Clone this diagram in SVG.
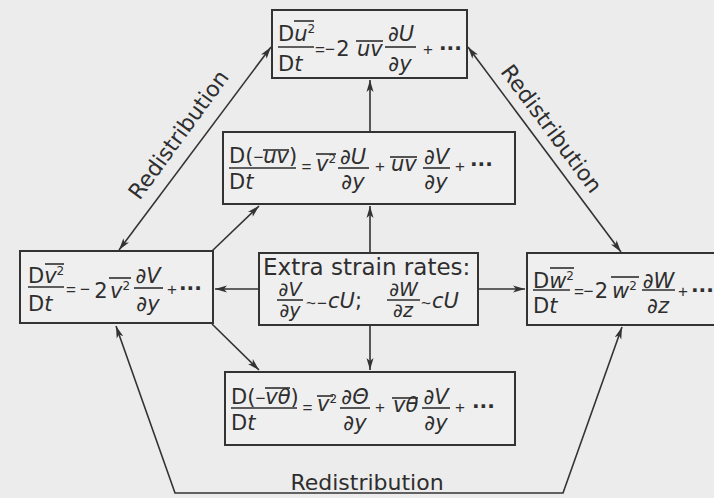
<svg xmlns="http://www.w3.org/2000/svg" width="714" height="498" viewBox="0 0 714 498">
<style>
.bg{fill:#ececec}
.box{fill:#efefef;stroke:#333;stroke-width:2}
.ln{fill:none;stroke:#333;stroke-width:1.6}
.bar{stroke:#2e2e2e;stroke-width:1.6}
.f{font-family:"DejaVu Sans",sans-serif;font-size:21px;fill:#2e2e2e}
.s19{font-size:19px}
.c{text-anchor:middle}
.it{font-style:italic}
.sup{font-size:12px}
.op{font-family:"Liberation Sans",sans-serif;font-size:17px;fill:#2e2e2e;text-anchor:middle}
.mn{font-family:"Liberation Sans",sans-serif;font-size:17px}
.dots{font-weight:bold;font-size:20px}
.lbl{font-family:"DejaVu Sans",sans-serif;font-size:22px;fill:#2e2e2e;text-anchor:middle}
.big{font-family:"DejaVu Sans",sans-serif;font-size:23px;fill:#2e2e2e}
</style>
<defs>
<marker id="ah" viewBox="0 0 12 8" refX="12" refY="4" markerWidth="12" markerHeight="8" markerUnits="userSpaceOnUse" orient="auto-start-reverse">
<path d="M0,0.5 L12,4 L0,7.5 L3,4 z" fill="#333"/>
</marker>
</defs>
<rect class="bg" x="0" y="0" width="714" height="498"/>

<g id="connectors">
<path class="ln" d="M370,253 L370,206" marker-end="url(#ah)"/>
<path class="ln" d="M370,132 L370,80" marker-end="url(#ah)"/>
<path class="ln" d="M370,325 L370,370" marker-end="url(#ah)"/>
<path class="ln" d="M259,289 L215,289" marker-end="url(#ah)"/>
<path class="ln" d="M478,289 L525,289" marker-end="url(#ah)"/>
<path class="ln" d="M212,251 L259,206" marker-end="url(#ah)"/>
<path class="ln" d="M212,324 L259,370" marker-end="url(#ah)"/>
<path class="ln" d="M119,250 L271,47" marker-start="url(#ah)" marker-end="url(#ah)"/>
<path class="ln" d="M468,47 L621,252" marker-start="url(#ah)" marker-end="url(#ah)"/>
<path class="ln" d="M116,326 L175,493 L563,493 L622,327" marker-start="url(#ah)" marker-end="url(#ah)"/>
<text class="lbl" transform="translate(179,135) rotate(-53.9)" x="0" y="7">Redistribution</text>
<text class="lbl" transform="translate(551,129) rotate(53.4)" x="0" y="7">Redistribution</text>
<text class="lbl" x="367" y="490">Redistribution</text>
</g>

<g id="n-u2">
<rect class="box" x="272" y="10" width="195" height="68"/>
<text class="f" x="278" y="41">D<tspan class="it">u</tspan><tspan class="sup" dy="-8">2</tspan></text>
<line class="bar" x1="294" y1="21" x2="314" y2="21"/>
<line class="bar" x1="278" y1="47" x2="314" y2="47"/>
<text class="f" x="278" y="71">D<tspan class="it">t</tspan></text>
<text class="op" x="320" y="55">=</text>
<text class="op" x="330" y="55">−</text>
<text class="f c" x="343" y="56">2</text>
<line class="bar" x1="356" y1="41" x2="383" y2="41"/>
<text class="f it" x="357" y="56">uv</text>
<text class="f c" x="401" y="41">∂<tspan class="it">U</tspan></text>
<line class="bar" x1="385" y1="47" x2="416" y2="47"/>
<text class="f c" x="400" y="71">∂<tspan class="it">y</tspan></text>
<text class="op" x="428" y="55">+</text>
<text class="f dots" x="439" y="55">···</text>
</g>

<g id="n-uv">
<rect class="box" x="223" y="132" width="292" height="72"/>
<text class="f" x="229" y="163">D(<tspan class="mn">−</tspan><tspan class="it">uv</tspan>)</text>
<line class="bar" x1="263" y1="150" x2="289" y2="150"/>
<line class="bar" x1="229" y1="168" x2="296" y2="168"/>
<text class="f" x="229" y="189">D<tspan class="it">t</tspan></text>
<text class="op" x="306.5" y="172">=</text>
<line class="bar" x1="316" y1="154" x2="336" y2="154"/>
<text class="f" x="316" y="171"><tspan class="it">v</tspan><tspan class="sup" dy="-8">2</tspan></text>
<text class="f c" x="353" y="164">∂<tspan class="it">U</tspan></text>
<line class="bar" x1="338" y1="168" x2="369" y2="168"/>
<text class="f c" x="353" y="189">∂<tspan class="it">y</tspan></text>
<text class="op" x="380" y="172">+</text>
<line class="bar" x1="390" y1="157" x2="417" y2="157"/>
<text class="f it" x="391" y="171">uv</text>
<text class="f c" x="436.5" y="164">∂<tspan class="it">V</tspan></text>
<line class="bar" x1="423" y1="168" x2="450" y2="168"/>
<text class="f c" x="436" y="189">∂<tspan class="it">y</tspan></text>
<text class="op" x="460" y="172">+</text>
<text class="f dots" x="470" y="171">···</text>
</g>

<g id="n-v2">
<rect class="box" x="20" y="251" width="193" height="72"/>
<text class="f" x="28" y="283">D<tspan class="it">v</tspan><tspan class="sup" dy="-8">2</tspan></text>
<line class="bar" x1="45" y1="264" x2="64" y2="264"/>
<line class="bar" x1="28" y1="287" x2="64" y2="287"/>
<text class="f" x="28" y="311">D<tspan class="it">t</tspan></text>
<text class="op" x="71" y="295">=</text>
<text class="op" x="85" y="295">−</text>
<text class="f c" x="101" y="298">2</text>
<line class="bar" x1="109" y1="278" x2="131" y2="278"/>
<text class="f" x="110" y="298"><tspan class="it">v</tspan><tspan class="sup" dy="-8">2</tspan></text>
<text class="f c" x="148" y="283">∂<tspan class="it">V</tspan></text>
<line class="bar" x1="134" y1="288" x2="163" y2="288"/>
<text class="f c" x="148" y="311">∂<tspan class="it">y</tspan></text>
<text class="op" x="172" y="295">+</text>
<text class="f dots" x="179" y="295">···</text>
</g>

<g id="n-strain">
<rect class="box" x="259" y="253" width="219" height="72"/>
<text class="big" x="263" y="275">Extra strain rates:</text>
<text class="f s19 c" x="290" y="296">∂<tspan class="it">V</tspan></text>
<line class="bar" x1="277" y1="300" x2="303" y2="300"/>
<text class="f s19 c" x="290" y="317">∂<tspan class="it">y</tspan></text>
<text class="op" x="311" y="309">~</text>
<text class="op" x="322" y="309">−</text>
<text class="f" x="328" y="308"><tspan class="it">cU</tspan>;</text>
<text class="f s19 c" x="403.5" y="296">∂<tspan class="it">W</tspan></text>
<line class="bar" x1="387" y1="300" x2="420" y2="300"/>
<text class="f s19 c" x="403" y="317">∂<tspan class="it">z</tspan></text>
<text class="op" x="426" y="309">~</text>
<text class="f it" x="432" y="308">cU</text>
</g>

<g id="n-w2">
<rect class="box" x="527" y="253" width="200" height="72"/>
<text class="f" x="533" y="288">D<tspan class="it">w</tspan><tspan class="sup" dy="-8">2</tspan></text>
<line class="bar" x1="550" y1="268" x2="574" y2="268"/>
<line class="bar" x1="533" y1="290" x2="570" y2="290"/>
<text class="f" x="533" y="313">D<tspan class="it">t</tspan></text>
<text class="op" x="579" y="297">=</text>
<text class="op" x="588.5" y="297">−</text>
<text class="f c" x="601.5" y="298">2</text>
<line class="bar" x1="611" y1="277" x2="639" y2="277"/>
<text class="f" x="612" y="298"><tspan class="it">w</tspan><tspan class="sup" dy="-8">2</tspan></text>
<text class="f c" x="658.5" y="288">∂<tspan class="it">W</tspan></text>
<line class="bar" x1="642" y1="290" x2="675" y2="290"/>
<text class="f c" x="658" y="313">∂<tspan class="it">z</tspan></text>
<text class="op" x="683" y="297">+</text>
<text class="f dots" x="691" y="297">···</text>
</g>

<g id="n-vtheta">
<rect class="box" x="225" y="372" width="290" height="73"/>
<text class="f" x="231" y="404">D(<tspan class="mn">−</tspan><tspan class="it">vθ</tspan>)</text>
<line class="bar" x1="265" y1="388" x2="290" y2="388"/>
<line class="bar" x1="231" y1="408" x2="297" y2="408"/>
<text class="f" x="231" y="430">D<tspan class="it">t</tspan></text>
<text class="op" x="307.5" y="413">=</text>
<line class="bar" x1="317" y1="396" x2="333" y2="396"/>
<text class="f" x="317" y="411"><tspan class="it">v</tspan><tspan class="sup" dy="-8">2</tspan></text>
<text class="f c" x="355" y="404">∂<tspan class="it">Θ</tspan></text>
<line class="bar" x1="340" y1="408" x2="370" y2="408"/>
<text class="f c" x="355" y="430">∂<tspan class="it">y</tspan></text>
<text class="op" x="380" y="413">+</text>
<line class="bar" x1="392" y1="398" x2="418" y2="398"/>
<text class="f it" x="393" y="412">vθ</text>
<text class="f c" x="436" y="404">∂<tspan class="it">V</tspan></text>
<line class="bar" x1="422" y1="408" x2="450" y2="408"/>
<text class="f c" x="436" y="430">∂<tspan class="it">y</tspan></text>
<text class="op" x="460" y="413">+</text>
<text class="f dots" x="472" y="413">···</text>
</g>
</svg>
